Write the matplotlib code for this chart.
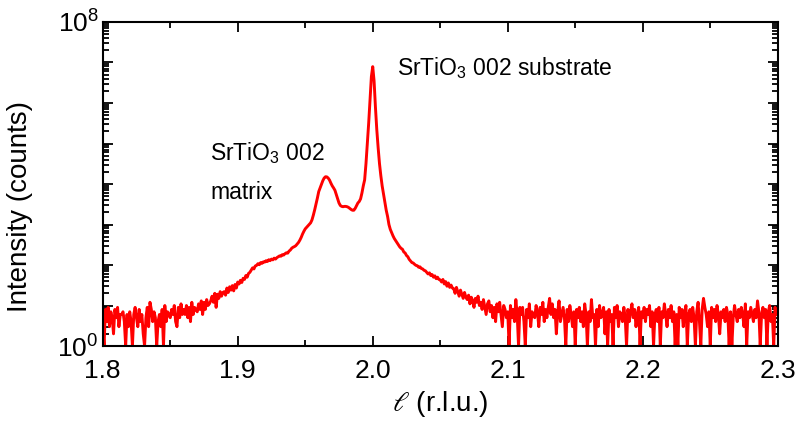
import numpy as np
import matplotlib
matplotlib.use("Agg")
import matplotlib.pyplot as plt
from matplotlib.ticker import FixedLocator, LogLocator, MultipleLocator, FuncFormatter

plt.rcParams["font.family"] = ["Liberation Sans", "DejaVu Sans"]
plt.rcParams["mathtext.fontset"] = "custom"
plt.rcParams["mathtext.rm"] = "Liberation Sans"

# l scan, 0.001 r.l.u. step from 1.800 to 2.300
l_start, l_step = 1.800, 0.001

# intensity (counts), one row per 0.01 r.l.u.
intensity = [
    3, 1, 8, 4, 9, 3, 7, 5, 2, 8,               # 1.80
    5, 9, 3, 6, 6, 7, 4, 1, 6, 3,               # 1.81
    7, 4, 1, 6, 9, 5, 3, 8, 4, 6,               # 1.82
    2, 1, 5, 9, 3, 12, 8, 4, 7, 5,              # 1.83
    1, 4, 6, 3, 8, 1, 10, 4, 7, 6,              # 1.84
    5, 8, 6, 10, 4, 3, 9, 5, 11, 6,             # 1.85
    8, 6, 10, 5, 9, 4, 12, 6, 9, 8,             # 1.86
    7, 11, 8, 13, 6, 12, 8, 14, 10, 11,         # 1.87
    13, 17, 12, 20, 9, 19, 15, 22, 17, 21,      # 1.88
    22, 18, 27, 21, 29, 24, 31, 23, 33, 27,     # 1.89
    38, 34, 42, 37, 47, 44, 55, 50, 62, 66,     # 1.90
    75, 85, 80, 95, 98, 108, 102, 115, 110, 120,  # 1.91
    118, 128, 122, 135, 128, 140, 134, 148, 140, 152,  # 1.92
    160, 168, 165, 180, 176, 190, 200, 196, 220, 235,  # 1.93
    260, 275, 285, 300, 330, 360, 410, 480, 580, 680,  # 1.94
    780, 850, 920, 1000, 1100, 1300, 1700, 2300, 3200, 4500,  # 1.95
    6500, 8000, 10000, 12000, 14000, 15100, 15000, 14000, 12500, 10500,  # 1.96
    9000, 8000, 7000, 5500, 4300, 3400, 2950, 2800, 2750, 2800,  # 1.97
    2800, 2750, 2650, 2500, 2350, 2250, 2250, 2500, 2900, 3400,  # 1.98
    3700, 4300, 6000, 9000, 12600, 32000, 100000, 320000, 1260000, 4500000,  # 1.99
    7900000, 3500000, 790000, 220000, 79000, 32000, 16000, 8900, 5600, 3500,  # 2.00
    2240, 1580, 1000, 760, 630, 525, 450, 400, 355, 316,  # 2.01
    280, 258, 245, 210, 198, 172, 160, 138, 126, 115,  # 2.02
    112, 104, 98, 96, 88, 90, 82, 80, 74, 72,   # 2.03
    66, 60, 64, 55, 58, 50, 54, 46, 50, 44,     # 2.04
    43, 38, 44, 34, 39, 30, 36, 28, 32, 27,     # 2.05
    26, 20, 28, 22, 17, 24, 19, 15, 21, 16,     # 2.06
    14, 18, 11, 16, 13, 9, 15, 12, 17, 10,      # 2.07
    12, 8, 14, 9, 6, 11, 13, 7, 10, 5,          # 2.08
    9, 4, 11, 7, 12, 6, 3, 10, 8, 5,            # 2.09
    7, 1, 10, 5, 8, 4, 14, 6, 1, 9,             # 2.10
    6, 9, 4, 1, 8, 5, 11, 3, 7, 6,              # 2.11
    5, 10, 7, 3, 9, 6, 12, 4, 8, 5,             # 2.12
    9, 15, 6, 11, 5, 8, 2, 7, 13, 4,            # 2.13
    6, 9, 5, 1, 8, 4, 10, 6, 3, 7,              # 2.14
    1, 8, 5, 9, 4, 7, 3, 11, 6, 1,              # 2.15
    7, 4, 14, 5, 6, 1, 8, 3, 10, 5,             # 2.16
    6, 9, 2, 7, 1, 8, 4, 6, 1, 9,               # 2.17
    5, 10, 3, 7, 6, 4, 9, 5, 1, 8,              # 2.18
    4, 7, 11, 5, 8, 3, 6, 9, 1, 7,              # 2.19
    5, 9, 4, 8, 6, 10, 3, 7, 1, 6,              # 2.20
    8, 4, 9, 1, 7, 5, 11, 6, 3, 8,              # 2.21
    5, 10, 4, 7, 1, 6, 1, 9, 5, 8,              # 2.22
    3, 7, 10, 1, 6, 8, 4, 9, 5, 1,              # 2.23
    7, 12, 4, 1, 8, 15, 9, 6, 3, 7,             # 2.24
    1, 9, 5, 8, 4, 10, 6, 2, 7, 5,              # 2.25
    8, 4, 9, 6, 1, 7, 1, 5, 10, 6,              # 2.26
    4, 8, 5, 9, 6, 3, 11, 1, 7, 5,              # 2.27
    9, 6, 4, 8, 5, 13, 7, 1, 6, 9,              # 2.28
    5, 8, 1, 7, 10, 4, 6, 1, 9, 6,              # 2.29
    7,                                          # 2.30
]
l_values = l_start + l_step * np.arange(len(intensity))

fig = plt.figure(figsize=(8, 4.23), dpi=100)
ax = fig.add_axes([0.1284, 0.182, 0.8438, 0.766])
ax.plot(l_values, intensity, color="#ff0000", linewidth=2.1)

ax.set_yscale("log")
ax.set_xlim(1.8, 2.3)
ax.set_ylim(1, 1e8)

ax.xaxis.set_major_locator(MultipleLocator(0.1))
ax.xaxis.set_minor_locator(MultipleLocator(0.05))
ax.xaxis.set_major_formatter(FuncFormatter(lambda v, p: f"{v:.1f}"))
ax.yaxis.set_major_locator(FixedLocator([10.0 ** k for k in range(9)]))
ax.yaxis.set_minor_locator(LogLocator(base=10, subs=np.arange(2, 10), numticks=20))
ax.yaxis.set_major_formatter(FuncFormatter(
    lambda v, p: {1.0: r"$\mathregular{10^0}$", 1e8: r"$\mathregular{10^8}$"}.get(v, "")))
ax.yaxis.set_minor_formatter(FuncFormatter(lambda v, p: ""))

ax.tick_params(which="both", direction="in", top=True, right=True,
               width=1.3, labelsize=19)
ax.tick_params(which="major", length=7)
ax.tick_params(which="minor", length=4)
ax.tick_params(axis="x", which="major", pad=9)
ax.tick_params(axis="y", which="major", pad=3)
for s in ax.spines.values():
    s.set_linewidth(1.5)

ax.set_xlabel(r"$\ell$ (r.l.u.)", fontsize=20, labelpad=5, math_fontfamily="stix")
ax.set_ylabel("Intensity (counts)", fontsize=20)
ax.yaxis.set_label_coords(-0.104, 0.432)

ax.text(2.0178, 10 ** 6.69, r"SrTiO$_\mathregular{3}$ 002 substrate",
        fontsize=16.5, va="baseline", ha="left")
ax.text(1.8795, 10 ** 4.59, r"SrTiO$_\mathregular{3}$ 002",
        fontsize=16.5, va="baseline", ha="left")
ax.text(1.8795, 10 ** 3.62, "matrix", fontsize=16.5, va="baseline", ha="left")

fig.savefig("out.png", dpi=100)
